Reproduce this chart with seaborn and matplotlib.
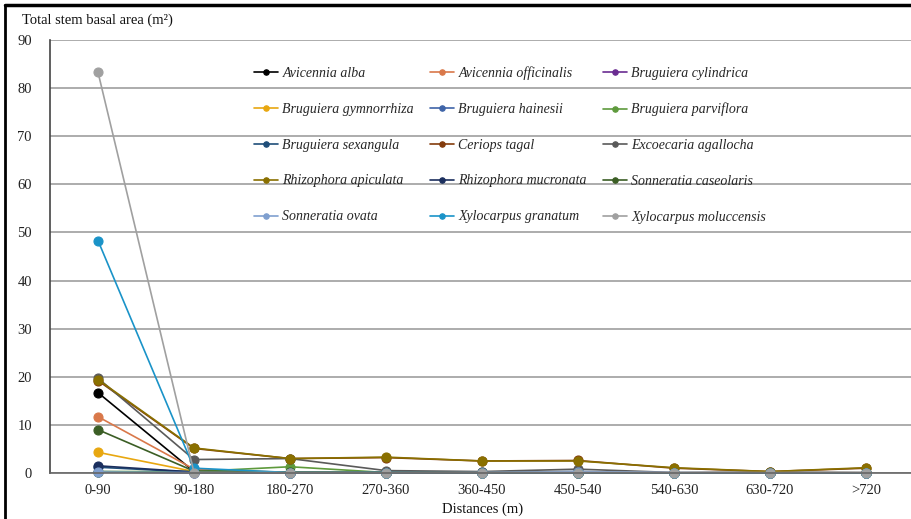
import numpy as np
import pandas as pd
import matplotlib
matplotlib.use("Agg")
import matplotlib.pyplot as plt
from matplotlib.lines import Line2D
import seaborn as sns

categories = ["0-90", "90-180", "180-270", "270-360", "360-450",
              "450-540", "540-630", "630-720", ">720"]

species = ["Avicennia alba", "Avicennia officinalis", "Bruguiera cylindrica",
           "Bruguiera gymnorrhiza", "Bruguiera hainesii", "Bruguiera parviflora",
           "Bruguiera sexangula", "Ceriops tagal", "Excoecaria agallocha",
           "Rhizophora apiculata", "Rhizophora mucronata", "Sonneratia caseolaris",
           "Sonneratia ovata", "Xylocarpus granatum", "Xylocarpus moluccensis"]

avicennia_alba = [16.7, 0.3, 0.1, 0.1, 0.1, 0.1, 0.0, 0.0, 0.0]
avicennia_officinalis = [11.7, 0.8, 0.1, 0.1, 0.0, 0.0, 0.0, 0.0, 0.0]
bruguiera_cylindrica = [0.2, 0.1, 0.0, 0.0, 0.0, 0.0, 0.0, 0.0, 0.0]
bruguiera_gymnorrhiza = [4.3, 0.3, 0.1, 0.1, 0.0, 0.0, 0.0, 0.0, 0.0]
bruguiera_hainesii = [0.3, 0.1, 0.0, 0.0, 0.0, 0.0, 0.0, 0.0, 0.0]
bruguiera_parviflora = [0.3, 0.3, 1.3, 0.1, 0.1, 0.1, 0.0, 0.0, 0.0]
bruguiera_sexangula = [1.2, 0.2, 0.1, 0.1, 0.2, 0.3, 0.0, 0.0, 0.0]
ceriops_tagal = [19.2, 5.1, 3.0, 3.2, 2.5, 2.6, 1.0, 0.3, 1.0]
excoecaria_agallocha = [19.7, 2.8, 3.0, 0.5, 0.3, 0.8, 0.1, 0.2, 0.1]
rhizophora_apiculata = [19.4, 5.2, 3.0, 3.3, 2.5, 2.5, 1.1, 0.3, 1.1]
rhizophora_mucronata = [1.5, 0.2, 0.1, 0.1, 0.1, 0.1, 0.0, 0.0, 0.0]
sonneratia_caseolaris = [9.0, 0.4, 0.2, 0.1, 0.1, 0.1, 0.0, 0.0, 0.0]
sonneratia_ovata = [0.2, 0.1, 0.0, 0.0, 0.1, 0.3, 0.1, 0.0, 0.0]
xylocarpus_granatum = [48.3, 1.0, 0.1, 0.1, 0.0, 0.0, 0.0, 0.0, 0.0]
xylocarpus_moluccensis = [83.3, 0.1, 0.1, 0.1, 0.1, 0.1, 0.1, 0.1, 0.1]

series = [avicennia_alba, avicennia_officinalis, bruguiera_cylindrica,
          bruguiera_gymnorrhiza, bruguiera_hainesii, bruguiera_parviflora,
          bruguiera_sexangula, ceriops_tagal, excoecaria_agallocha,
          rhizophora_apiculata, rhizophora_mucronata, sonneratia_caseolaris,
          sonneratia_ovata, xylocarpus_granatum, xylocarpus_moluccensis]

colors = ["#000000", "#D9784A", "#6A2C91", "#E8A710", "#3F64A8", "#5E9A3C",
          "#1F4E79", "#843C0C", "#5A5A5A", "#8A7000", "#1B2F5E", "#3B5E25",
          "#7F9FCF", "#1A93C8", "#A0A0A0"]

rows = []
for name, vals in zip(species, series):
    for i, v in enumerate(vals):
        rows.append({"species": name, "pos": i, "value": v})
df = pd.DataFrame(rows)

sns.set_style("white")
plt.rcParams["font.family"] = ["Liberation Serif", "DejaVu Serif"]

fig = plt.figure(figsize=(9.12, 5.19), dpi=100)
ax = fig.add_axes([50 / 912, 1 - 473 / 519, 864 / 912, (473 - 40) / 519])

for name, col in zip(species, colors):
    sub = df[df["species"] == name]
    sns.lineplot(data=sub, x="pos", y="value", ax=ax, color=col, marker="o",
                 markersize=6.5, markeredgecolor=col, markeredgewidth=0.8,
                 linewidth=1.2, label=name, clip_on=False)

ax.set_xlim(-0.5, len(categories) - 0.5)
ax.set_ylim(0, 90)
ax.set_yticks(np.arange(0, 91, 10))
ax.set_xticks(np.arange(len(categories)))
ax.set_xticklabels(categories)
ax.set_xticks(np.arange(len(categories) + 1) - 0.5, minor=True)
ax.tick_params(axis="x", which="major", length=0, labelsize=10.5, pad=8, colors="#222222")
ax.tick_params(axis="x", which="minor", length=5, width=1, direction="out", color="#444444")
ax.tick_params(axis="y", length=5, width=1, direction="out", labelsize=10.5, color="#444444",
               labelcolor="#222222", pad=8)
ax.yaxis.grid(True, color="#A6A6A6", linewidth=1.3)
ax.set_axisbelow(True)
for s in ["top", "right"]:
    ax.spines[s].set_visible(False)
ax.spines["left"].set_color("#444444")
ax.spines["bottom"].set_color("#666666")
ax.spines["left"].set_linewidth(1.2)
ax.spines["bottom"].set_linewidth(1.2)
ax.set_xlabel("")
ax.set_ylabel("")

fig.text(22 / 912, 1 - 20 / 519, "Total stem basal area (m²)", fontsize=10.5,
         ha="left", va="center", color="#111111")
fig.text(483 / 912, 1 - 509 / 519, "Distances (m)", fontsize=10.5,
         ha="center", va="center", color="#111111")

handles, labels = ax.get_legend_handles_labels()
order = [0, 3, 6, 9, 12, 1, 4, 7, 10, 13, 2, 5, 8, 11, 14]
leg = ax.legend([handles[i] for i in order], [labels[i] for i in order],
                ncol=3, loc="upper left", bbox_to_anchor=(247 / 912, 1 - 59 / 519),
                bbox_transform=fig.transFigure, frameon=False,
                prop={"family": "Liberation Serif", "style": "italic", "size": 10},
                handlelength=1.75, handletextpad=0.3, columnspacing=1.15,
                labelspacing=1.65, borderpad=0, markerscale=0.6)

fig.add_artist(Line2D([5 / 912, 1], [1 - 5 / 519, 1 - 5 / 519], color="black",
                      linewidth=2.5, transform=fig.transFigure))
fig.add_artist(Line2D([5 / 912, 5 / 912], [0, 1 - 5 / 519], color="black",
                      linewidth=2.0, transform=fig.transFigure))

fig.savefig("out.png", dpi=100)
